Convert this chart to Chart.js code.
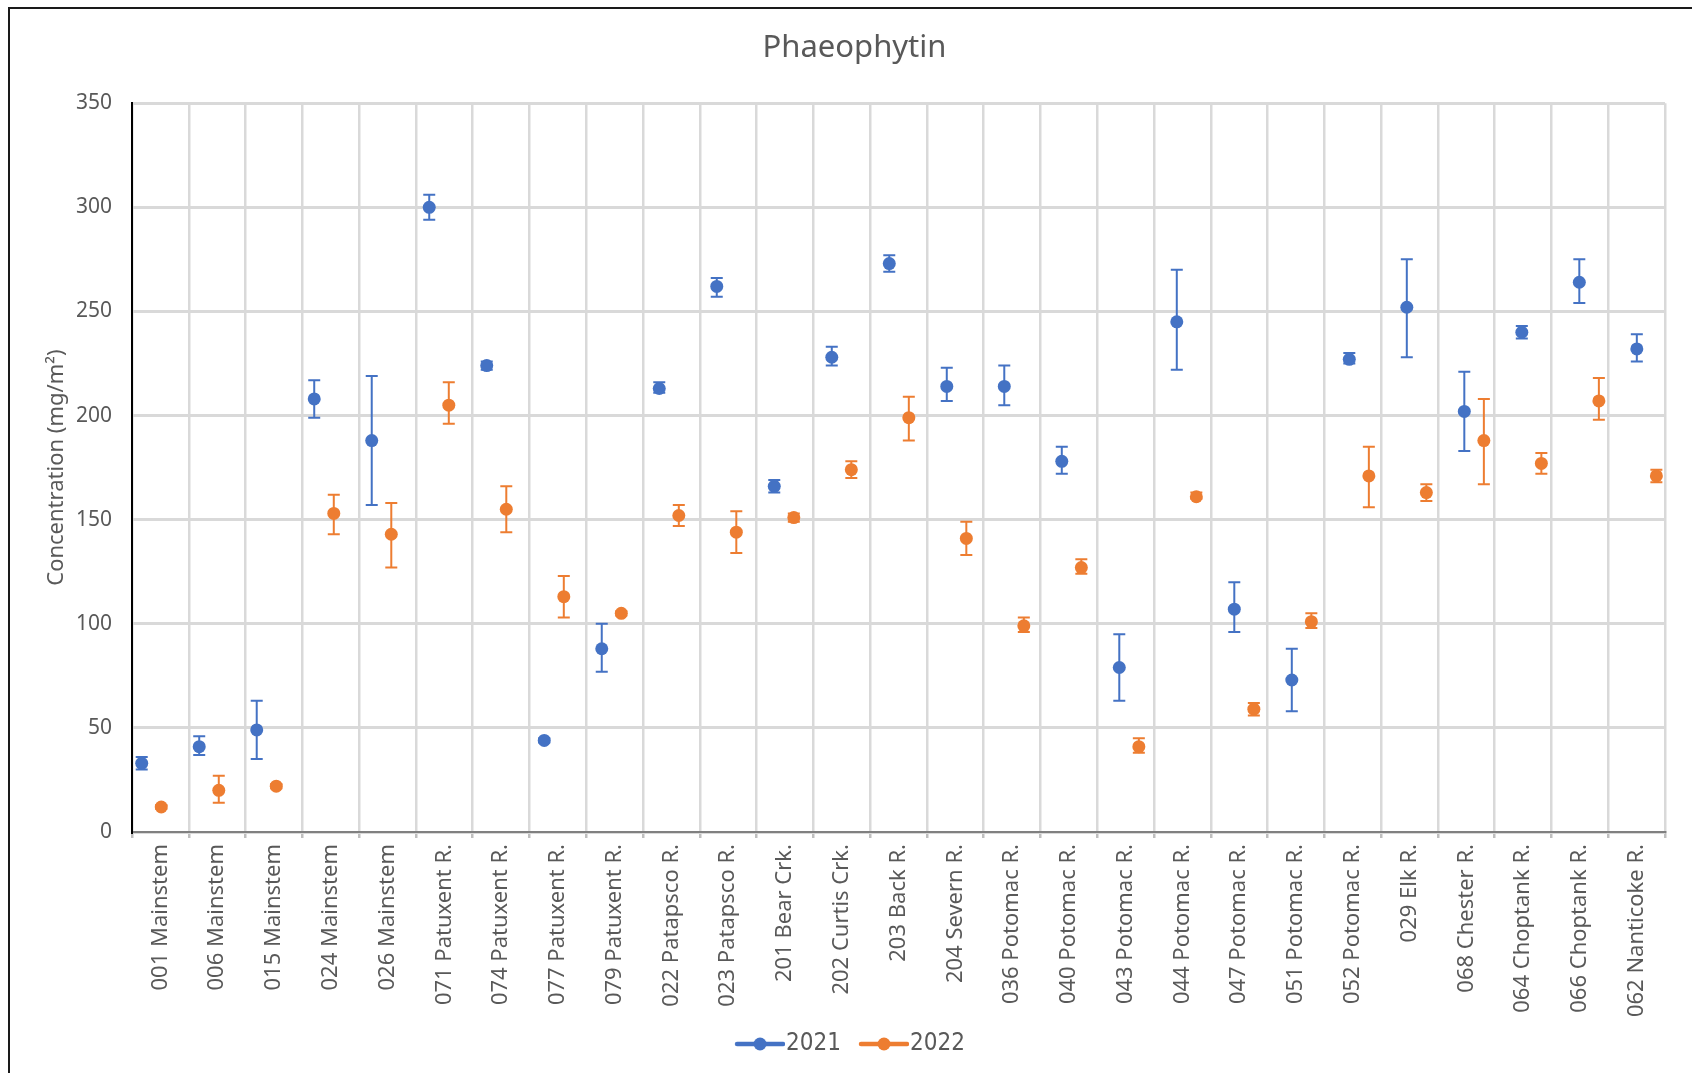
<!DOCTYPE html>
<html>
<head>
<meta charset="utf-8">
<script src="https://cdn.jsdelivr.net/npm/chart.js@4.4.1/dist/chart.umd.min.js"></script>
<style>
  html, body { margin: 0; padding: 0; background: #fff; overflow: hidden; }
  #frame { position: absolute; left: 8px; top: 7px; width: 2000px; height: 2000px; border: 2px solid #1a1a1a; }
  #wrap { position: absolute; left: 0; top: 0; width: 1692px; height: 1073px; }
</style>
</head>
<body>
<div id="frame"></div>
<div id="wrap"><canvas id="errorChart"></canvas></div>
<script>
const stations = [
    "001 Mainstem", "006 Mainstem", "015 Mainstem", "024 Mainstem", "026 Mainstem",
    "071 Patuxent R.", "074 Patuxent R.", "077 Patuxent R.", "079 Patuxent R.",
    "022 Patapsco R.", "023 Patapsco R.", "201 Bear Crk.", "202 Curtis Crk.",
    "203 Back R.", "204 Severn R.", "036 Potomac R.", "040 Potomac R.",
    "043 Potomac R.", "044 Potomac R.", "047 Potomac R.", "051 Potomac R.",
    "052 Potomac R.", "029 Elk R.", "068 Chester R.", "064 Choptank R.",
    "066 Choptank R.", "062 Nanticoke R.",
]

const mean2021 = [33, 41, 49, 208, 188, 300, 224, 44, 88, 213, 262, 166, 228, 273, 214, 214, 178, 79, 245, 107, 73, 227, 252, 202, 240, 264, 232]
const low2021  = [30, 37, 35, 199, 157, 294, 222, 43, 77, 211, 257, 163, 224, 269, 207, 205, 172, 63, 222, 96, 58, 225, 228, 183, 237, 254, 226]
const high2021 = [36, 46, 63, 217, 219, 306, 226, 45, 100, 216, 266, 169, 233, 277, 223, 224, 185, 95, 270, 120, 88, 230, 275, 221, 243, 275, 239]

const mean2022 = [12, 20, 22, 153, 143, 205, 155, 113, 105, 152, 144, 151, 174, 199, 141, 99, 127, 41, 161, 59, 101, 171, 163, 188, 177, 207, 171]
const low2022  = [11, 14, 21, 143, 127, 196, 144, 103, 104, 147, 134, 149, 170, 188, 133, 96, 124, 38, 160, 56, 98, 156, 159, 167, 172, 198, 168]
const high2022 = [13, 27, 23, 162, 158, 216, 166, 123, 106, 157, 154, 153, 178, 209, 149, 103, 131, 45, 163, 62, 105, 185, 167, 208, 182, 218, 174]

const blue = "#4472C4"
const orange = "#ED7D31"
const textGray = "#595959"
const gridGray = "#D9D9D9"
const font = "'Noto Sans', 'Liberation Sans', sans-serif"

// error bars drawn under the points, through the y scale
const errorBars = {
    id: "errorBars",
    afterLayout(chart) {
        // let the long rotated station names run past the axis box instead of being clipped
        chart.scales.x.bottom = chart.height
    },
    beforeDatasetsDraw(chart) {
        const ctx = chart.ctx
        const y = chart.scales.y
        chart.data.datasets.forEach((ds, d) => {
            const meta = chart.getDatasetMeta(d)
            ctx.save()
            ctx.strokeStyle = ds.borderColor
            ctx.lineWidth = 2
            meta.data.forEach((pt, i) => {
                const top = y.getPixelForValue(ds.errHigh[i])
                const bottom = y.getPixelForValue(ds.errLow[i])
                ctx.beginPath()
                ctx.moveTo(pt.x, top)
                ctx.lineTo(pt.x, bottom)
                ctx.moveTo(pt.x - 6, top)
                ctx.lineTo(pt.x + 6, top)
                ctx.moveTo(pt.x - 6, bottom)
                ctx.lineTo(pt.x + 6, bottom)
                ctx.stroke()
            })
            ctx.restore()
        })
    }
}

// line-with-dot legend marker
function legendMarker(color) {
    const c = document.createElement("canvas")
    c.width = 52
    c.height = 16
    const g = c.getContext("2d")
    g.strokeStyle = color
    g.lineWidth = 4.5
    g.lineCap = "round"
    g.beginPath()
    g.moveTo(4, 8)
    g.lineTo(50, 8)
    g.stroke()
    g.fillStyle = color
    g.beginPath()
    g.arc(27, 8, 6.5, 0, Math.PI * 2)
    g.fill()
    return c
}

const markers = [legendMarker(blue), legendMarker(orange)]

new Chart(document.getElementById("errorChart"), {
    type: "line",
    data: {
        labels: stations,
        datasets: [
            {
                label: "2021",
                data: mean2021.map((v, i) => ({ x: i, y: v })),
                errLow: low2021,
                errHigh: high2021,
                xAxisID: "xp",
                showLine: false,
                pointRadius: 6.5,
                pointBorderWidth: 0,
                backgroundColor: blue,
                borderColor: blue,
            },
            {
                label: "2022",
                data: mean2022.map((v, i) => ({ x: i + 0.34, y: v })),
                errLow: low2022,
                errHigh: high2022,
                xAxisID: "xp",
                showLine: false,
                pointRadius: 6.5,
                pointBorderWidth: 0,
                backgroundColor: orange,
                borderColor: orange,
            }
        ]
    },
    options: {
        responsive: true,
        maintainAspectRatio: false,
        animation: false,
        layout: { padding: { left: 44, right: 27, top: 0, bottom: 7 } },
        plugins: {
            title: {
                display: true,
                text: "Phaeophytin",
                color: textGray,
                font: { family: font, size: 31, weight: "normal" },
                padding: { top: 30, bottom: 36 }
            },
            legend: {
                position: "bottom",
                labels: {
                    usePointStyle: true,
                    pointStyleWidth: 30,
                    padding: 27,
                    color: textGray,
                    font: { family: "'Liberation Sans Narrow', 'DejaVu Sans Condensed', sans-serif", size: 24 },
                    generateLabels: (chart) => chart.data.datasets.map((ds, i) => ({
                        text: ds.label,
                        pointStyle: markers[i],
                        fillStyle: ds.backgroundColor,
                        strokeStyle: ds.borderColor,
                        lineWidth: 0,
                        fontColor: textGray,
                        hidden: false,
                        datasetIndex: i
                    }))
                }
            },
            tooltip: { enabled: false }
        },
        scales: {
            x: {
                type: "category",
                offset: true,
                grid: { offset: true, color: gridGray, lineWidth: 2.5, tickLength: 6, tickColor: "#BFBFBF" },
                border: { color: "#808080", width: 2 },
                ticks: {
                    autoSkip: false,
                    maxRotation: 90,
                    minRotation: 90,
                    padding: 6,
                    color: textGray,
                    font: { family: font, size: 22 }
                },
                afterFit(scale) { scale.height = 173 }
            },
            xp: {
                type: "linear",
                display: false,
                min: -0.169,
                max: 26.49
            },
            y: {
                min: 0,
                max: 350,
                ticks: { stepSize: 50, padding: 20, color: textGray, font: { family: font, size: 21 } },
                grid: { color: gridGray, lineWidth: 3, drawTicks: false },
                border: { color: "#000", width: 2 },
                title: {
                    display: true,
                    text: "Concentration (mg/m²)",
                    color: textGray,
                    font: { family: font, size: 22 },
                    padding: { top: 0, bottom: 0 }
                },
                afterFit(scale) { scale.width = 88 }
            }
        }
    },
    plugins: [errorBars]
})
</script>
</body>
</html>
